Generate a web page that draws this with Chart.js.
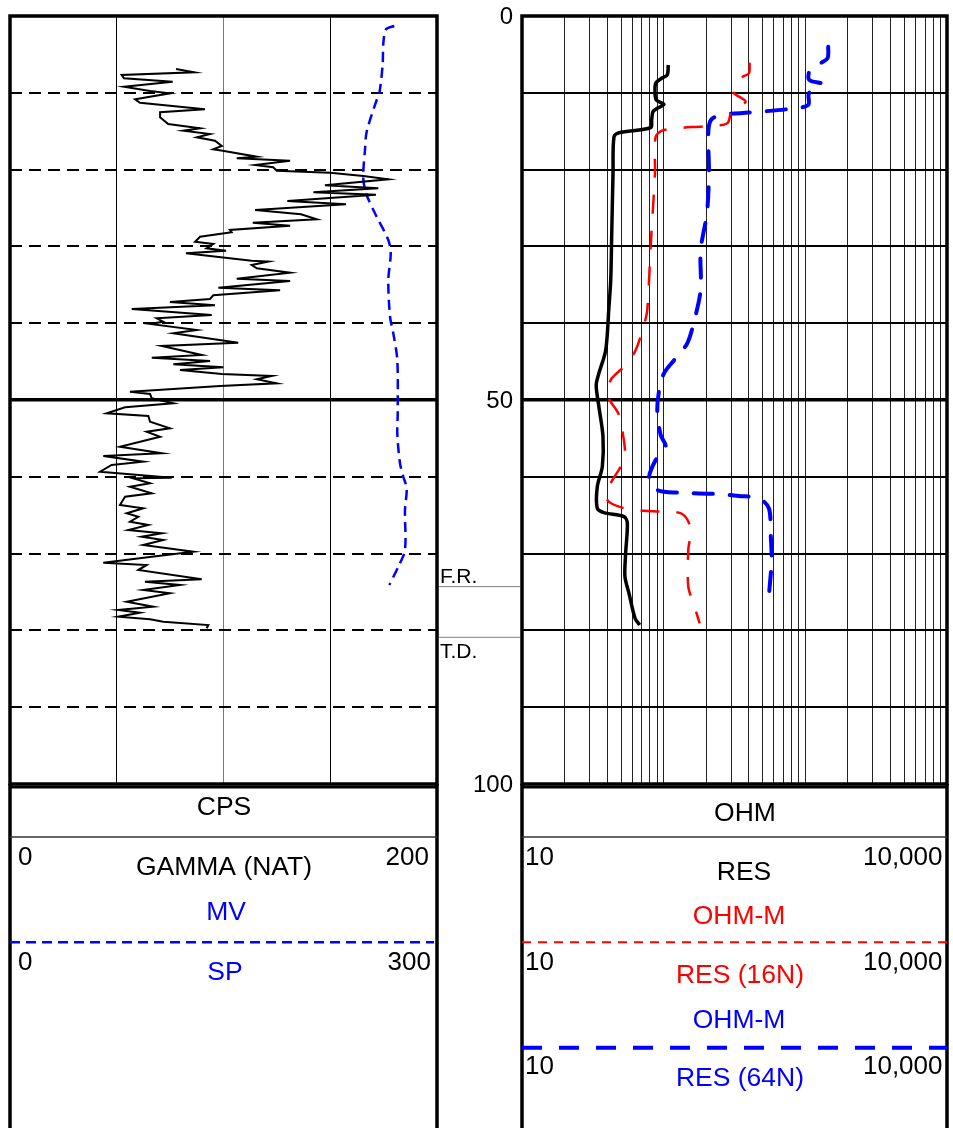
<!DOCTYPE html>
<html>
<head>
<meta charset="utf-8">
<title>Well log</title>
<script src="https://cdn.jsdelivr.net/npm/chart.js@4.4.1/dist/chart.umd.min.js"></script>
<style>
  html, body { margin: 0; padding: 0; background: #fff; }
  #wrap { position: relative; width: 953px; height: 1128px; overflow: hidden; }
  #wrap canvas { position: absolute; left: 0; top: 0; }
</style>
</head>
<body>
<div id="wrap">
  <canvas id="leftTrack" width="953" height="1128"></canvas>
  <canvas id="rightTrack" width="953" height="1128"></canvas>
</div>
<script>
// depth runs 0..100 down the page
const depthLabels = [0, 50, 100];
const FR_DEPTH = 74.3;
const TD_DEPTH = 80.9;

// natural gamma, CPS (0..200)
const gammaDepth = [6.9, 7.33, 7.68, 8.11, 8.55, 9.21, 9.77, 10.07, 10.85, 11.29,
  12.15, 12.54, 13.19, 14.06, 14.62, 14.93, 15.36, 15.79, 16.24, 16.93,
  17.36, 17.54, 18.32, 18.53, 18.84, 19.4, 19.7, 20.14, 20.4, 20.83,
  21.26, 22.04, 22.43, 22.96, 23.27, 24.09, 24.52, 25.26, 25.82, 26.47,
  26.91, 27.3, 27.86, 28.16, 28.74, 29.39, 29.69, 30.25, 30.56, 30.9,
  31.86, 31.97, 32.42, 32.85, 33.42, 34.21, 34.51, 35.38, 35.72, 36.37,
  36.85, 37.24, 37.67, 38.15, 38.93, 39.36, 39.8, 40.1, 40.89, 41.32,
  42.54, 42.97, 44.14, 44.49, 44.92, 45.35, 45.74, 46.09, 46.61, 46.88,
  47.3, 47.83, 48.18, 48.92, 49.22, 49.78, 50.43, 50.95, 51.73, 52.08,
  52.83, 53.68, 54.13, 54.78, 56.08, 56.94, 57.29, 58.03, 58.46, 59.34,
  60.12, 60.2, 60.85, 61.29, 62.15, 62.59, 63.67, 64.1, 64.75, 65.2,
  65.85, 66.28, 66.93, 67.36, 67.8, 68.23, 68.88, 69.75, 70.4, 71.19,
  71.48, 72.14, 73.35, 73.66, 74.09, 74.74, 75.17, 76.26, 76.91, 77.34,
  77.7, 78.22, 78.56, 78.87, 79.3, 79.73];
const gammaCps = [77.8, 86.3, 52.3, 53.4, 76.2, 53.4, 65.6, 74.9, 58.6, 60.9,
  91.3, 70.3, 70.3, 74.1, 89.0, 81.2, 93.7, 87.5, 96.0, 99.2,
  95.2, 99.6, 115.6, 106.2, 131.2, 114.8, 123.3, 124.9, 149.9, 165.5,
  177.2, 147.5, 172.5, 142.1, 171.4, 129.9, 157.4, 114.8, 136.3, 143.7,
  113.7, 131.2, 103.0, 103.8, 89.0, 86.7, 95.2, 92.1, 101.2, 82.4,
  113.2, 121.0, 113.2, 115.6, 131.2, 106.2, 131.2, 97.6, 126.5, 95.2,
  93.7, 74.9, 96.0, 57.0, 94.5, 68.7, 71.8, 65.6, 87.5, 76.5,
  106.9, 71.1, 89.8, 66.4, 93.7, 76.5, 99.9, 79.6, 99.2, 122.6,
  115.6, 124.9, 98.4, 56.2, 65.6, 66.4, 76.5, 53.9, 45.3, 64.8,
  65.6, 74.9, 64.0, 70.3, 51.5, 71.1, 43.7, 62.4, 47.6, 42.2,
  75.7, 57.8, 65.6, 56.2, 66.4, 53.9, 51.5, 62.4, 54.7, 60.1,
  56.2, 64.8, 55.4, 71.1, 61.7, 71.8, 62.4, 85.9, 66.4, 43.7,
  64.0, 60.1, 89.8, 63.2, 79.6, 62.4, 74.9, 54.7, 67.1, 50.7,
  60.9, 50.7, 65.6, 71.8, 92.9, 92.1];

// spontaneous potential, MV (0..300)
const spDepth = [1.3, 1.73, 3.55, 6.38, 10.07, 10.94, 15.07, 17.45, 21.13, 23.31,
  26.13, 29.17, 30.9, 34.38, 39.15, 41.32, 44.79, 51.73, 54.34, 58.24,
  59.99, 61.5, 64.32, 69.53, 71.71, 74.09];
const spMv = [270.0, 264.2, 262.3, 261.8, 259.5, 257.6, 250.6, 249.4, 248.2, 250.6,
  257.6, 265.8, 267.5, 265.8, 267.0, 269.3, 272.1, 272.4, 272.1, 274.0,
  276.3, 278.7, 277.5, 277.5, 272.8, 266.5];

// resistivity, OHM (log 10..10,000)
const resDepth = [6.38, 7.68, 8.11, 8.68, 9.64, 10.94, 11.5, 12.02, 12.46, 13.54,
  14.54, 15.2, 15.72, 20.48, 28.29, 34.38, 37.85, 43.49, 46.52, 48.05,
  50.87, 54.78, 58.68, 61.29, 64.1, 64.67, 65.19, 66.05, 69.96, 73.01,
  75.17, 78.42, 79.3];
const resOhm = [107.8, 106.0, 96.8, 88.3, 86.8, 88.7, 100.5, 90.1, 84.0, 82.3,
  81.0, 48.4, 44.6, 43.9, 43.0, 42.3, 41.1, 39.0, 34.9, 33.4,
  34.9, 37.3, 36.9, 34.0, 34.0, 37.9, 52.5, 55.4, 53.9, 53.3,
  56.9, 62.8, 67.7];

// 16" normal, OHM-M
const res16Depth = [6.08, 7.46, 7.98, 9.86, 11.16, 12.24, 13.97, 14.32, 14.84, 15.72,
  20.48, 30.04, 38.28, 40.23, 43.49, 45.44, 47.4, 49.57, 51.73, 53.91,
  56.94, 58.68, 60.85, 63.02, 64.1, 64.41, 64.54, 64.84, 66.71, 69.53,
  74.31, 76.69, 79.08];
const res16Ohm = [404.5, 400, 358.7, 308.4, 379, 303.4, 281.1, 203.1, 100.5, 87.8,
  86.8, 80.9, 76.6, 72.6, 63.5, 53.9, 42.3, 40.6, 47.8, 51.0,
  53.3, 49.7, 42.3, 40.0, 52.5, 72.6, 97.7, 135.3, 155.1, 149.2,
  149.2, 163.7, 179.5];

// 64" normal, OHM-M
const res64Depth = [4.0, 5.47, 6.12, 7.03, 8.33, 8.85, 10.07, 11.59, 12.11, 12.57,
  12.89, 13.54, 15.23, 20.44, 25.65, 30.47, 35.68, 39.8, 42.62, 44.57,
  46.52, 48.92, 51.52, 54.56, 56.08, 57.81, 60.2, 61.72, 62.07, 62.24,
  62.5, 62.8, 64.1, 67.36, 70.83, 74.31, 76.82];
const res64Ohm = [1450, 1437, 1288, 1078, 1066, 1310, 1060, 1048, 766, 400,
  253.8, 215.7, 206.4, 208.8, 202.1, 182.4, 182.4, 163.7, 146.7, 121.5,
  100.5, 92.6, 90.1, 95.2, 103.3, 87.8, 78.8, 90.1, 128.2, 232.8,
  340, 470.6, 553.5, 569, 578.4, 560, 544.7];

// log grid lines 10, 20 ... 10,000
const resGrid = [10, 20, 30, 40, 50, 60, 70, 80, 90,
  100, 200, 300, 400, 500, 600, 700, 800, 900,
  1000, 2000, 3000, 4000, 5000, 6000, 7000, 8000, 9000, 10000];

const FONT = '"Liberation Sans", Arial, sans-serif';
const BLUE = '#0000ff';
const RED = '#ff0000';
const WORD = 26.5;
const NUM = 26;
Chart.defaults.font.family = FONT;

const toPoints = (depths, values) => depths.map((d, i) => ({ x: values[i], y: d }));

function text(ctx, str, x, y, align, color, size) {
  ctx.font = (size || WORD) + 'px ' + FONT;
  ctx.fillStyle = color || '#000';
  ctx.textAlign = align;
  ctx.textBaseline = 'middle';
  ctx.fillText(str, x, y);
}

function hline(ctx, x1, x2, y, width, color, dash) {
  ctx.beginPath();
  ctx.lineWidth = width;
  ctx.strokeStyle = color;
  ctx.setLineDash(dash || []);
  ctx.moveTo(x1, y);
  ctx.lineTo(x2, y);
  ctx.stroke();
  ctx.setLineDash([]);
}

// track outline plus the header box hanging under it
function drawBox(chart) {
  const { ctx, chartArea: a } = chart;
  ctx.strokeStyle = '#000';
  ctx.lineWidth = 3.5;
  ctx.strokeRect(a.left, a.top, a.right - a.left, a.bottom - a.top);
  ctx.beginPath();
  ctx.moveTo(a.left, a.bottom);
  ctx.lineTo(a.left, chart.height + 5);
  ctx.moveTo(a.right, a.bottom);
  ctx.lineTo(a.right, chart.height + 5);
  ctx.stroke();
  hline(ctx, a.left, a.right, a.bottom + 3, 3, '#000');
  hline(ctx, a.left, a.right, 837, 1.5, '#333');
}

const gammaHeader = {
  id: 'gammaHeader',
  afterDraw(chart) {
    const { ctx, chartArea: a, scales } = chart;
    ctx.save();
    drawBox(chart);
    text(ctx, 'CPS', 224, 807.5, 'center');
    text(ctx, '0', a.left + 8, 857.5, 'left', '#000', NUM);
    text(ctx, '200', a.right - 8, 857.5, 'right', '#000', NUM);
    text(ctx, 'GAMMA (NAT)', 224, 868, 'center');
    text(ctx, 'MV', 226, 913, 'center', BLUE);
    hline(ctx, a.left, a.right - 3, 942.3, 2.5, BLUE, [10, 6]);
    text(ctx, '0', a.left + 8, 962.5, 'left', '#000', NUM);
    text(ctx, '300', a.right - 6, 962.5, 'right', '#000', NUM);
    text(ctx, 'SP', 225, 972.5, 'center', BLUE);

    // formation / total depth markers between the tracks
    const yFr = scales.y.getPixelForValue(FR_DEPTH);
    const yTd = scales.y.getPixelForValue(TD_DEPTH);
    hline(ctx, a.right + 2, 520, yFr, 1, '#808080');
    hline(ctx, a.right + 2, 520, yTd, 1, '#808080');
    ctx.font = '21px ' + FONT;
    ctx.fillStyle = '#000';
    ctx.textAlign = 'left';
    ctx.textBaseline = 'alphabetic';
    ctx.fillText('F.R.', a.right + 3, yFr - 3.5);
    ctx.fillText('T.D.', a.right + 3, yTd + 20.5);
    ctx.restore();
  }
};

const resHeader = {
  id: 'resHeader',
  afterDraw(chart) {
    const { ctx, chartArea: a, scales } = chart;
    ctx.save();
    drawBox(chart);

    // depth numbers down the left side of the resistivity track
    depthLabels.forEach(v => {
      text(ctx, String(v), a.left - 9, scales.y.getPixelForValue(v) + 1.5, 'right', '#000', 24);
    });

    text(ctx, 'OHM', 745, 814, 'center');
    text(ctx, '10', a.left + 3, 857.5, 'left', '#000', NUM);
    text(ctx, '10,000', a.right - 4.5, 857.5, 'right', '#000', NUM);
    text(ctx, 'RES', 744, 873, 'center');
    text(ctx, 'OHM-M', 739, 917, 'center', RED);
    hline(ctx, a.left, a.right, 942.3, 2, RED, [9, 7]);
    text(ctx, '10', a.left + 3, 963, 'left', '#000', NUM);
    text(ctx, '10,000', a.right - 4.5, 963, 'right', '#000', NUM);
    text(ctx, 'RES (16N)', 740, 976, 'center', RED);
    text(ctx, 'OHM-M', 739, 1021, 'center', BLUE);
    hline(ctx, a.left, a.right, 1047.7, 4, BLUE, [20, 17]);
    text(ctx, '10', a.left + 3, 1067, 'left', '#000', NUM);
    text(ctx, '10,000', a.right - 4.5, 1067, 'right', '#000', NUM);
    text(ctx, 'RES (64N)', 740, 1079, 'center', BLUE);
    ctx.restore();
  }
};

const noHeight = s => { s.height = 0; };
const noWidth = s => { s.width = 0; };

const common = {
  responsive: false,
  animation: false,
  devicePixelRatio: 1,
  events: [],
  elements: { point: { radius: 0 } },
  plugins: { legend: { display: false }, tooltip: { enabled: false } }
};

function depthAxis(extra) {
  return Object.assign({
    type: 'linear',
    min: 0,
    max: 100,
    reverse: true,
    afterFit: noWidth,
    border: { display: false },
    ticks: { stepSize: 10, display: false }
  }, extra);
}

const depthLineWidth = c => {
  const v = c.tick.value;
  if (v === 0 || v === 100) return 0;
  return v === 50 ? 3.5 : 2;
};

new Chart(document.getElementById('leftTrack'), {
  type: 'scatter',
  data: {
    datasets: [
      {
        label: 'GAMMA (NAT)',
        data: toPoints(gammaDepth, gammaCps),
        showLine: true,
        borderColor: '#000',
        borderWidth: 2,
        tension: 0,
        xAxisID: 'x',
        yAxisID: 'y'
      },
      {
        label: 'SP',
        data: toPoints(spDepth, spMv),
        showLine: true,
        borderColor: BLUE,
        borderWidth: 2.5,
        borderDash: [10, 6],
        tension: 0.3,
        xAxisID: 'xSp',
        yAxisID: 'y'
      }
    ]
  },
  options: Object.assign({}, common, {
    layout: { padding: { left: 10, top: 16, right: 953 - 437, bottom: 1128 - 784 } },
    scales: {
      x: {
        type: 'linear',
        min: 0,
        max: 200,
        afterFit: noHeight,
        border: { display: false },
        ticks: { stepSize: 50, display: false },
        grid: {
          drawTicks: false,
          color: c => c.tick.value === 100 ? '#7a7a7a' : '#000',
          lineWidth: c => (c.tick.value === 0 || c.tick.value === 200) ? 0 : 1
        }
      },
      xSp: { type: 'linear', min: 0, max: 300, display: false },
      y: depthAxis({
        border: {
          display: false,
          dash: c => (c.tick && c.tick.value % 50 !== 0) ? [12, 7] : []
        },
        grid: { drawTicks: false, color: '#000', lineWidth: depthLineWidth }
      })
    }
  }),
  plugins: [gammaHeader]
});

new Chart(document.getElementById('rightTrack'), {
  type: 'scatter',
  data: {
    datasets: [
      {
        label: 'RES',
        data: toPoints(resDepth, resOhm),
        showLine: true,
        borderColor: '#000',
        borderWidth: 3.5,
        borderJoinStyle: 'round',
        tension: 0.3
      },
      {
        label: 'RES (16N)',
        data: toPoints(res16Depth, res16Ohm),
        showLine: true,
        borderColor: RED,
        borderWidth: 2.5,
        borderDash: [19, 17],
        tension: 0.3
      },
      {
        label: 'RES (64N)',
        data: toPoints(res64Depth, res64Ohm),
        showLine: true,
        borderColor: BLUE,
        borderWidth: 4,
        borderDash: [19, 17],
        borderCapStyle: 'round',
        tension: 0.3
      }
    ]
  },
  options: Object.assign({}, common, {
    layout: { padding: { left: 522, top: 16, right: 953 - 947, bottom: 1128 - 784 } },
    scales: {
      x: {
        type: 'logarithmic',
        min: 10,
        max: 10000,
        afterFit: noHeight,
        afterBuildTicks: s => { s.ticks = resGrid.map(v => ({ value: v })); },
        border: { display: false },
        ticks: { display: false },
        grid: {
          drawTicks: false,
          color: '#222',
          lineWidth: c => (c.tick.value === 10 || c.tick.value === 10000) ? 0 : 1
        }
      },
      y: depthAxis({
        grid: { drawTicks: false, color: '#000', lineWidth: depthLineWidth }
      })
    }
  }),
  plugins: [resHeader]
});
</script>
</body>
</html>
